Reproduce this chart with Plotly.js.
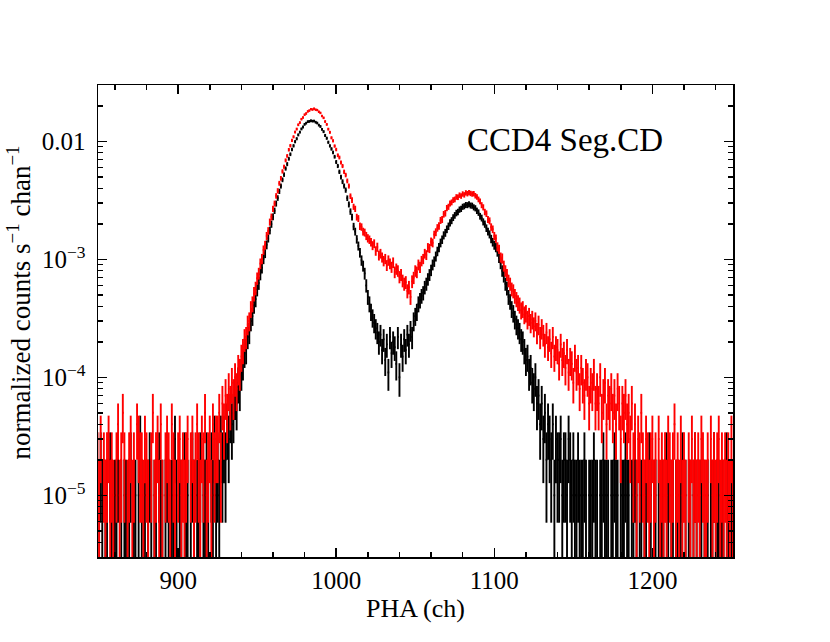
<!DOCTYPE html>
<html>
<head>
<meta charset="utf-8">
<script src="https://cdn.plot.ly/plotly-3.0.1.min.js"></script>
<style>html,body{margin:0;padding:0;background:#fff;}#chart{width:830px;height:642px;}</style>
</head>
<body>
<div id="chart"></div>
<script>
// First channel of both spectra (one value per channel follows)
const firstChannel = 849;
// Count rate of one count in a channel (counts s^-1 chan^-1)
const countUnit = 1e-5;

// Red spectrum, counts per channel, channels 849..1251
const redCounts = [
  2,1,3,0,2,1,2,3,1,2,
  1,0,2,4,1,2,5,2,0,1,
  2,3,1,2,0,4,3,2,2,1,
  3,2,1,0,2,5,1,2,3,1,
  4,1,0,2,3,2,1,4,2,1,
  0,2,3,1,2,1,2,3,0,2,
  3,1,2,4,2,1,3,2,5,1,
  2,3,1,4,2,3,
  3,5,2,6,4,7,5,8,6,9,
  7,10,8,12,11,15,17,21,22,28,
  30,38,42,51,57,69,76,92,101,120,
  132,158,174,207,229,268,297,345,381,441,
  486,556,609,690,752,848,918,1018,1092,1198,
  1270,1381,1441,1541,1592,1681,1722,1792,1821,1873,
  1858,1889,1852,1840,1779,1741,1642,1581,1470,1391,
  1268,1192,1071,1010,912,852,762,729,661,618,
  552,518,462,418,343,318,279,268,228,222,
  191,188,172,169,158,151,147,140,131,136,
  118,127,108,112,104,97,101,89,98,92,
  86,94,78,83,80,71,74,66,62,64,
  54,58,48,65,70,80,78,90,86,97,
  101,112,109,126,124,141,138,162,170,185,
  192,214,218,241,246,272,279,298,304,318,
  322,338,336,350,344,358,352,366,360,368,
  362,358,360,346,338,322,310,288,276,252,
  244,218,212,188,180,158,150,128,122,104,
  102,88,80,74,66,62,56,54,49,46,
  43,41,37,38,34,35,31,33,29,31,
  27,30,24,28,22,26,23,19,24,18,
  21,16,22,15,18,17,13,19,14,16,
  12,17,11,14,13,9,15,11,12,8,
  12,9,7,11,10,6,9,8,11,6,
  8,6,10,5,7,9,4,7,6,8,
  5,7,4,8,6,3,6,5,7,4,
  5,3,6,2,4,1,3,2,5,2,
  1,3,2,1,2,3,1,2,0,3,
  1,2,1,2,1,3,2,1,2,4,
  1,2,1,3,1,2,1,0,2,1,
  3,1,2,1,2,1,3,2,1,1,
  2,0,3,1,2,1,2,3,1,2,
  1,2,1,2,1,3,1
];

// Black spectrum, counts per channel, channels 849..1251
const blackCounts = [
  1,0,2,1,0,1,1,0,2,1,
  0,1,1,2,0,1,0,1,1,0,
  1,2,0,1,1,0,1,3,1,0,
  1,0,1,2,1,0,1,1,0,2,
  1,1,0,1,2,1,0,1,1,3,
  1,0,1,1,0,2,1,1,0,1,
  2,1,0,1,1,2,0,1,1,2,
  1,0,2,1,3,1,2,1,3,2,
  3,2,4,3,5,4,
  5,7,6,9,8,11,13,16,17,22,
  24,30,33,41,46,56,63,75,85,101,
  113,133,151,176,199,229,258,297,331,377,
  418,472,522,588,641,712,777,853,916,993,
  1052,1134,1196,1274,1322,1393,1425,1467,1475,1494,
  1482,1486,1452,1428,1372,1336,1262,1208,1121,1062,
  982,915,862,805,740,668,618,552,498,455,
  418,386,330,292,254,228,190,172,148,130,
  114,98,88,76,60,48,42,36,32,29,
  26,24,20,23,17,21,14,19,11,22,
  16,20,18,13,22,10,19,15,21,17,
  23,19,25,22,30,33,36,42,45,49,
  52,58,62,68,74,81,90,96,106,117,
  126,138,147,160,168,180,191,204,213,226,
  236,247,252,264,268,279,282,289,288,293,
  286,285,276,271,258,249,232,224,208,199,
  184,172,163,149,140,132,126,116,103,92,
  80,72,62,57,48,44,38,35,31,28,
  26,24,21,20,17,14,15,11,12,9,
  8,10,6,7,4,6,3,5,2,4,
  3,2,4,1,3,2,2,3,1,2,
  2,1,3,2,1,2,1,1,2,1,
  1,1,2,1,0,1,1,1,2,1,
  1,0,1,1,2,1,1,1,0,1,
  1,2,1,1,0,1,1,1,2,1,
  1,0,1,1,2,1,0,1,1,0,
  1,1,0,2,1,0,1,1,0,1,
  0,1,1,0,2,1,0,1,1,0,
  1,1,0,1,2,0,1,0,1,1,
  0,1,2,1,0,1,1,0,1,0,
  1,0,1,1,2,0,1,1,0,1,
  1,0,2,1,0,1,1
];

// Axis tick values and labels
const xTickVals = [900, 1000, 1100, 1200];
const xTickText = ['900', '1000', '1100', '1200'];
const yTickVals = [0.01, 1e-3, 1e-4, 1e-5];
const yTickText = ['0.01', '10<sup>\u22123</sup>', '10<sup>\u22124</sup>', '10<sup>\u22125</sup>'];
const labelText = 'CCD4 Seg.CD';
const xTitle = 'PHA (ch)';
const yTitle = 'normalized counts s<sup>\u22121</sup> chan<sup>\u22121</sup>';

function buildTrace(counts, color) {
  const x = [], y = [], ey = [];
  counts.forEach(function (c, i) {
    x.push(firstChannel + i);
    if (c > 0) {
      y.push(c * countUnit);
      ey.push(Math.sqrt(c) * countUnit);
    } else {
      y.push(null);
      ey.push(null);
    }
  });
  return {
    type: 'scatter', mode: 'markers', x: x, y: y,
    marker: {size: 1, color: color},
    error_y: {type: 'data', array: ey, visible: true, width: 0, thickness: 1.9, color: color},
    error_x: {type: 'constant', value: 0.5, visible: true, width: 0, thickness: 1.9, color: color},
    hoverinfo: 'skip', showlegend: false
  };
}

const minorY = [];
[1e-6, 1e-5, 1e-4, 1e-3, 1e-2].forEach(function (d) {
  for (let k = 2; k <= 9; k++) minorY.push(k * d);
});

const fontFamily = 'Liberation Serif, Times New Roman, serif';

const layout = {
  width: 830, height: 642,
  margin: {l: 98, r: 97, t: 85, b: 85},
  paper_bgcolor: '#fff', plot_bgcolor: '#fff',
  font: {family: fontFamily, color: '#000', size: 25},
  xaxis: {
    range: [849.3, 1251.0], showgrid: false, zeroline: false,
    showline: true, linecolor: '#000', linewidth: 1.5, mirror: 'allticks',
    ticks: 'inside', ticklen: 9, tickwidth: 1.5, tickcolor: '#000',
    tickvals: xTickVals, ticktext: xTickText,
    tickfont: {family: fontFamily, size: 25},
    minor: {ticks: 'inside', dtick: 20, tick0: 0, ticklen: 5, tickwidth: 1.5, tickcolor: '#000', showgrid: false},
    title: {text: xTitle, font: {family: fontFamily, size: 26}, standoff: 6}
  },
  yaxis: {
    type: 'log', range: [Math.log10(3e-6), Math.log10(0.03)],
    showgrid: false, zeroline: false,
    showline: true, linecolor: '#000', linewidth: 1.5, mirror: 'allticks',
    ticks: 'inside', ticklen: 9, tickwidth: 1.5, tickcolor: '#000',
    tickvals: yTickVals, ticktext: yTickText,
    tickfont: {family: fontFamily, size: 25},
    ticklabelstandoff: 6,
    minor: {ticks: 'inside', tickvals: minorY, ticklen: 5, tickwidth: 1.5, tickcolor: '#000', showgrid: false}
  },
  annotations: [{
    text: labelText, xref: 'paper', yref: 'paper', x: 0.735, y: 0.883,
    xanchor: 'center', yanchor: 'middle', showarrow: false,
    font: {family: fontFamily, size: 33, color: '#000'}
  }, {
    text: yTitle, xref: 'paper', yref: 'paper', x: -0.124, y: 0.54,
    xanchor: 'center', yanchor: 'middle', showarrow: false, textangle: -90,
    font: {family: fontFamily, size: 27, color: '#000'}
  }]
};

Plotly.newPlot('chart', [buildTrace(blackCounts, '#000'), buildTrace(redCounts, '#ff0000')], layout, {staticPlot: true, displayModeBar: false});
</script>
</body>
</html>
